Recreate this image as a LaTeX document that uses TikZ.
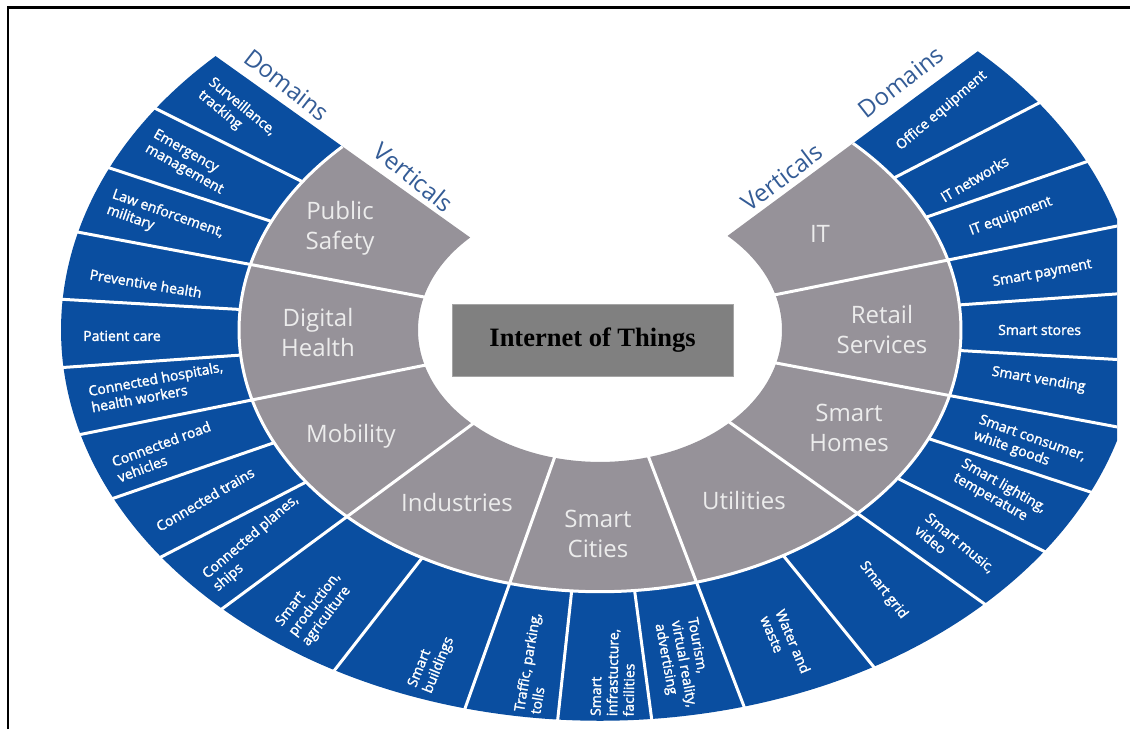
\documentclass[tikz,border=0pt]{standalone}
\usepackage{fontspec}
\setmainfont{Open Sans}
\newfontfamily\domfont[FakeBold=1.8]{Open Sans}
\newfontfamily\boxserif{Liberation Serif}
\definecolor{ringblue}{RGB}{10,78,160}
\definecolor{ringgrey}{RGB}{150,146,153}
\definecolor{vtext}{RGB}{236,236,236}
\definecolor{headblue}{RGB}{52,92,150}
\definecolor{boxgrey}{RGB}{128,128,128}
\definecolor{boxedge}{RGB}{165,165,165}
\newcommand\domlab[5]{\node[dom,rotate=#4] (#1) at ({600+(#3)*cos(#2)},{399+0.725*(#3)*sin(#2)}) {#5};}
\begin{document}
\begin{tikzpicture}[x=1pt,y=1pt,
  vert/.style={text=vtext, font=\fontsize{24}{30}\selectfont, align=center, inner sep=0pt},
  dom/.style={text=white, font=\domfont\fontsize{14}{16.5}\selectfont, align=left, anchor=west, inner sep=0pt},
  head/.style={text=headblue, font=\fontsize{24}{28}\selectfont, inner sep=0pt},
  sep/.style={white, line width=3pt},
  ]
\useasboundingbox (0,0) rectangle (1130,729);
\fill[white] (0,0) rectangle (1130,729);
% ring
\begin{scope}
\clip (0,0) rectangle (1117,729);
\begin{scope}[shift={(600,399)}, yscale=0.725]
\fill[ringgrey] (135.5:182pt) arc[start angle=135.5, end angle=405.5, radius=182pt]
  -- (405.5:361pt) arc[start angle=405.5, end angle=135.5, radius=361pt] -- cycle;
\fill[ringblue] (135.5:361pt) arc[start angle=135.5, end angle=405.5, radius=361pt]
  -- (405.5:539pt) arc[start angle=405.5, end angle=135.5, radius=539pt] -- cycle;
\draw[sep] (135.5:361pt) arc[start angle=135.5, end angle=405.5, radius=361pt];
\foreach \a in {165.5,195.5,225.5,255.5,285.5,315.5,345.5,375.5}
  \draw[sep] (\a:175pt) -- (\a:545pt);
\foreach \a in {145.5,155.5,175.5,185.5,205.5,215.5,240.5,265.5,275.5,300.5,325.5,335.5,355.5,365.5,385.5,395.5}
  \draw[sep] (\a:361pt) -- (\a:545pt);
\end{scope}
\end{scope}
% verticals
\node[vert] (ps) at (340,501) {Public\\Safety};
\node[vert] (dh) at (318,396) {Digital\\Health};
\node[vert] (mob) at (351,293) {Mobility};
\node[vert] (ind) at (457,227) {Industries};
\node[vert] (sc) at (598,195) {Smart\\Cities};
\node[vert] (ut) at (744,228) {Utilities};
\node[vert] (sh) at (849,301) {Smart\\Homes};
\node[vert] (rs) at (882,399) {Retail\\Services};
\node[vert] (it) at (820,495) {IT};
% domains
\domlab{d1}{139.7}{518}{-39.5}{Surveillance,\\tracking}
\domlab{d2}{149.9}{520}{-29.5}{Emergency\\management}
\domlab{d3}{160.2}{521}{-19.5}{Law enforcement,\\military}
\domlab{d4}{171.4}{516}{-9.5}{Preventive health}
\domlab{d5}{180.9}{517}{0}{Patient care}
\domlab{d6}{190.6}{519}{10.5}{Connected hospitals,\\health workers}
\domlab{d7}{201.7}{522}{20.5}{Connected road\\vehicles}
\domlab{d8}{211.6}{520}{30.5}{Connected trains}
\domlab{d9}{221.8}{523}{40.5}{Connected planes,\\ships}
\domlab{d10}{233.8}{521}{53}{Smart\\production,\\agriculture}
\domlab{d11}{250.1}{528}{68}{Smart\\buildings}
\domlab{d12}{262.1}{533}{80.5}{Traffic, parking,\\tolls}
\domlab{d13}{271.3}{533}{89}{Smart\\infrastucture,\\facilities}
\domlab{d14}{280.6}{408}{-79.5}{Tourism,\\virtual reality,\\advertising}
\domlab{d15}{293.8}{427}{-67}{Water and\\waste}
\domlab{d16}{309.2}{415}{-52}{Smart grid}
\domlab{d17}{320.6}{417}{-39.5}{Smart music,\\video}
\domlab{d18}{331.7}{407}{-29.5}{Smart lighting,\\temperature}
\domlab{d19}{340.3}{400}{-19.5}{Smart consumer,\\white goods}
\domlab{d20}{351.6}{396}{-9.5}{Smart vending}
\domlab{d21}{0}{398}{0}{Smart stores}
\domlab{d22}{9.4}{398}{10.5}{Smart payment}
\domlab{d23}{20.1}{394}{20.5}{IT equipment}
\domlab{d24}{28}{387}{30.5}{IT networks}
\domlab{d25}{40.1}{390}{40.5}{Office equipment}
% headings
\node[head, rotate=-38] (doml) at (287,644) {Domains};
\node[head, rotate=-39] (verl) at (414,552) {Verticals};
\node[head, rotate=37] (verr) at (782,552) {Verticals};
\node[head, rotate=38] (domr) at (901,647) {Domains};
% centre box
\node[fill=boxgrey, draw=boxedge, line width=0.8pt, minimum width=281pt, minimum height=72pt, inner sep=0pt,
  font=\boxserif\bfseries\fontsize{26.5}{30}\selectfont, text=black] (iot) at (592.5,389) {Internet of Things};
% frame
\draw[line width=2.2pt, black] (8,0) -- (8,721.5) -- (1130,721.5);
\end{tikzpicture}
\end{document}
